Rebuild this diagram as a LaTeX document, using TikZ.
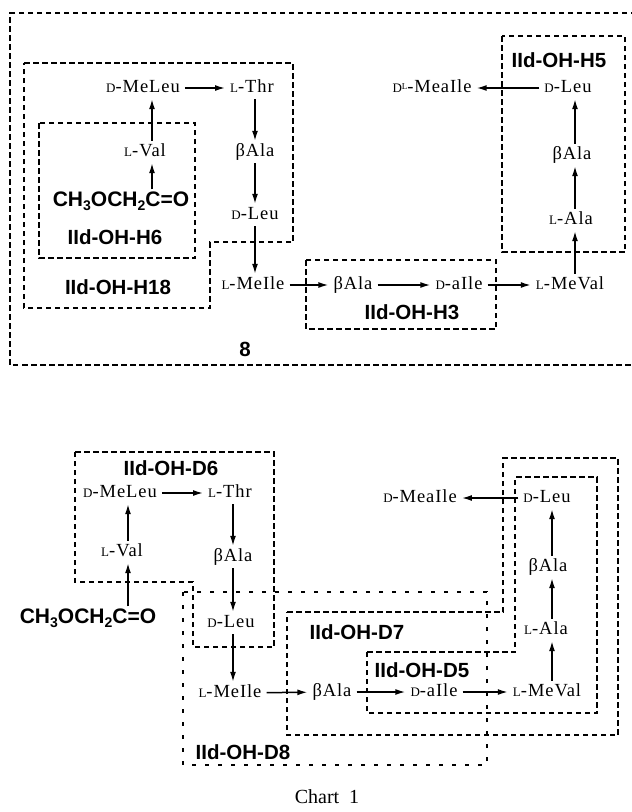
\documentclass[tikz,border=0pt]{standalone}
\usepackage{fontspec}
\setmainfont{Liberation Serif}
\newfontfamily\labfont{Liberation Sans}
\usetikzlibrary{arrows.meta}
\newcommand\smc[1]{{\fontsize{13}{13}\selectfont #1}}
\newcommand\tinyL{\raisebox{0.35ex}{\fontsize{9}{9}\selectfont L}}
\newcommand\sbx[1]{\raisebox{-0.35ex}{\fontsize{14}{14}\selectfont #1}}
\tikzset{
  res/.style={font=\fontsize{18.5}{20}\selectfont\addfontfeature{LetterSpace=5}, inner xsep=5pt, inner ysep=3.5pt, text height=12pt, text depth=3pt},
  lab/.style={font=\labfont\bfseries\fontsize{20.5}{22}\selectfont, inner sep=1pt},
  chem/.style={font=\labfont\bfseries\fontsize{21}{22}\selectfont, inner sep=3pt, text height=14pt, text depth=3pt},
  arr/.style={line width=1.5pt, -{Latex[length=10pt,width=6pt]}},
  box/.style={line width=1.6pt, dash pattern=on 5.5pt off 3.5pt},
  sparse/.style={line width=1.6pt, dash pattern=on 4pt off 9pt}
}
\begin{document}
\begin{tikzpicture}[x=1pt,y=-1pt]
\useasboundingbox (0,0) rectangle (632,812);

% ================= TOP CHART =================
\draw[box] (645,13) -- (10,13) -- (10,365) -- (645,365);
\draw[box] (24,63) -- (293,63) -- (293,242) -- (210,242) -- (210,308) -- (24,308) -- cycle;
\draw[box] (39,123) rectangle (195,258);
\draw[box] (502,36) rectangle (625,252);
\draw[box] (306,260) rectangle (496,329);

\node[res] (meleuT) at (143,88) {\smc{D}-MeLeu};
\node[res] (thrT) at (252,88) {\smc{L}-Thr};
\node[res] (valT) at (145,152) {\smc{L}-Val};
\node[res] (balaTa) at (255,152) {βAla};
\node[chem] (chT) at (121,201) {CH\sbx{3}OCH\sbx{2}C=O};
\node[res] (leuT) at (255,215) {\smc{D}-Leu};
\node[res] (meileT) at (253,285) {\smc{L}-MeIle};
\node[res] (balaTb) at (353,285) {βAla};
\node[res] (aileT) at (459,285) {\smc{D}-aIle};
\node[res] (mevalT) at (570,285) {\smc{L}-MeVal};
\node[res] (alaT) at (571,220) {\smc{L}-Ala};
\node[res] (balaTc) at (572,155) {βAla};
\node[res] (leuTb) at (568,88) {\smc{D}-Leu};
\node[res] (meaileT) at (432,88) {\smc{D}\tinyL-MeaIle};

\node[lab] (h6) at (115,237) {IId-OH-H6};
\node[lab] (h18) at (118,287) {IId-OH-H18};
\node[lab] (h3) at (412,312) {IId-OH-H3};
\node[lab] (h5) at (559,60) {IId-OH-H5};
\node[lab] (eight) at (245,349) {8};

\draw[arr] ([xshift=31pt]chT.north) -- ([xshift=7pt]valT.south);
\draw[arr] ([xshift=7pt]valT.north) -- ([xshift=9pt]meleuT.south);
\draw[arr] (meleuT) -- (thrT);
\draw[arr] ([xshift=3pt]thrT.south) -- (balaTa.north);
\draw[arr] (balaTa.south) -- (leuT.north);
\draw[arr] (leuT.south) -- ([xshift=2pt]meileT.north);
\draw[arr] (meileT) -- (balaTb);
\draw[arr] (balaTb) -- (aileT);
\draw[arr] (aileT) -- (mevalT);
\draw[arr] ([xshift=5pt]mevalT.north) -- ([xshift=4pt]alaT.south);
\draw[arr] ([xshift=4pt]alaT.north) -- ([xshift=3pt]balaTc.south);
\draw[arr] ([xshift=3pt]balaTc.north) -- ([xshift=7pt]leuTb.south);
\draw[arr] (leuTb) -- (meaileT);

% ================= BOTTOM CHART =================
\draw[box] (75,452) -- (274,452) -- (274,647) -- (193,647) -- (193,582) -- (75,582) -- cycle;
\draw[sparse] (183,592) rectangle (487,765);
\draw[box] (287,612) -- (503,612) -- (503,458) -- (618,458) -- (618,735) -- (287,735) -- cycle;
\draw[box] (367,652) -- (515,652) -- (515,477) -- (597,477) -- (597,713) -- (367,713) -- cycle;

\node[res] (meleuB) at (120,493) {\smc{D}-MeLeu};
\node[res] (thrB) at (230,493) {\smc{L}-Thr};
\node[res] (valB) at (122,552) {\smc{L}-Val};
\node[res] (balaBa) at (233,557) {βAla};
\node[chem] (chB) at (88,618) {CH\sbx{3}OCH\sbx{2}C=O};
\node[res] (leuB) at (231,623) {\smc{D}-Leu};
\node[res] (meileB) at (230,693) {\smc{L}-MeIle};
\node[res] (balaBb) at (332,692) {βAla};
\node[res] (aileB) at (434,692) {\smc{D}-aIle};
\node[res] (mevalB) at (547,692) {\smc{L}-MeVal};
\node[res] (alaB) at (546,630) {\smc{L}-Ala};
\node[res] (balaBc) at (548,567) {βAla};
\node[res] (leuBb) at (547,498) {\smc{D}-Leu};
\node[res] (meaileB) at (420,498) {\smc{D}-MeaIle};

\node[lab] (d6) at (171,468) {IId-OH-D6};
\node[lab] (d7) at (357,632) {IId-OH-D7};
\node[lab] (d5) at (422,670) {IId-OH-D5};
\node[lab] (d8) at (243,752) {IId-OH-D8};
\node[font=\fontsize{20}{22}\selectfont] (chart) at (327,797) {Chart\hspace{0.5em}1};

\draw[arr] ([xshift=40pt]chB.north) -- ([xshift=6pt]valB.south);
\draw[arr] ([xshift=6pt]valB.north) -- ([xshift=8pt]meleuB.south);
\draw[arr] (meleuB) -- (thrB);
\draw[arr] ([xshift=3pt]thrB.south) -- (balaBa.north);
\draw[arr] (balaBa.south) -- ([xshift=2pt]leuB.north);
\draw[arr] ([xshift=2pt]leuB.south) -- ([xshift=3pt]meileB.north);
\draw[arr] (meileB) -- (balaBb);
\draw[arr] (balaBb) -- (aileB);
\draw[arr] (aileB) -- (mevalB);
\draw[arr] ([xshift=5pt]mevalB.north) -- ([xshift=6pt]alaB.south);
\draw[arr] ([xshift=6pt]alaB.north) -- ([xshift=4pt]balaBc.south);
\draw[arr] ([xshift=4pt]balaBc.north) -- ([xshift=5pt]leuBb.south);
\draw[arr] (leuBb) -- (meaileB);
\end{tikzpicture}
\end{document}
